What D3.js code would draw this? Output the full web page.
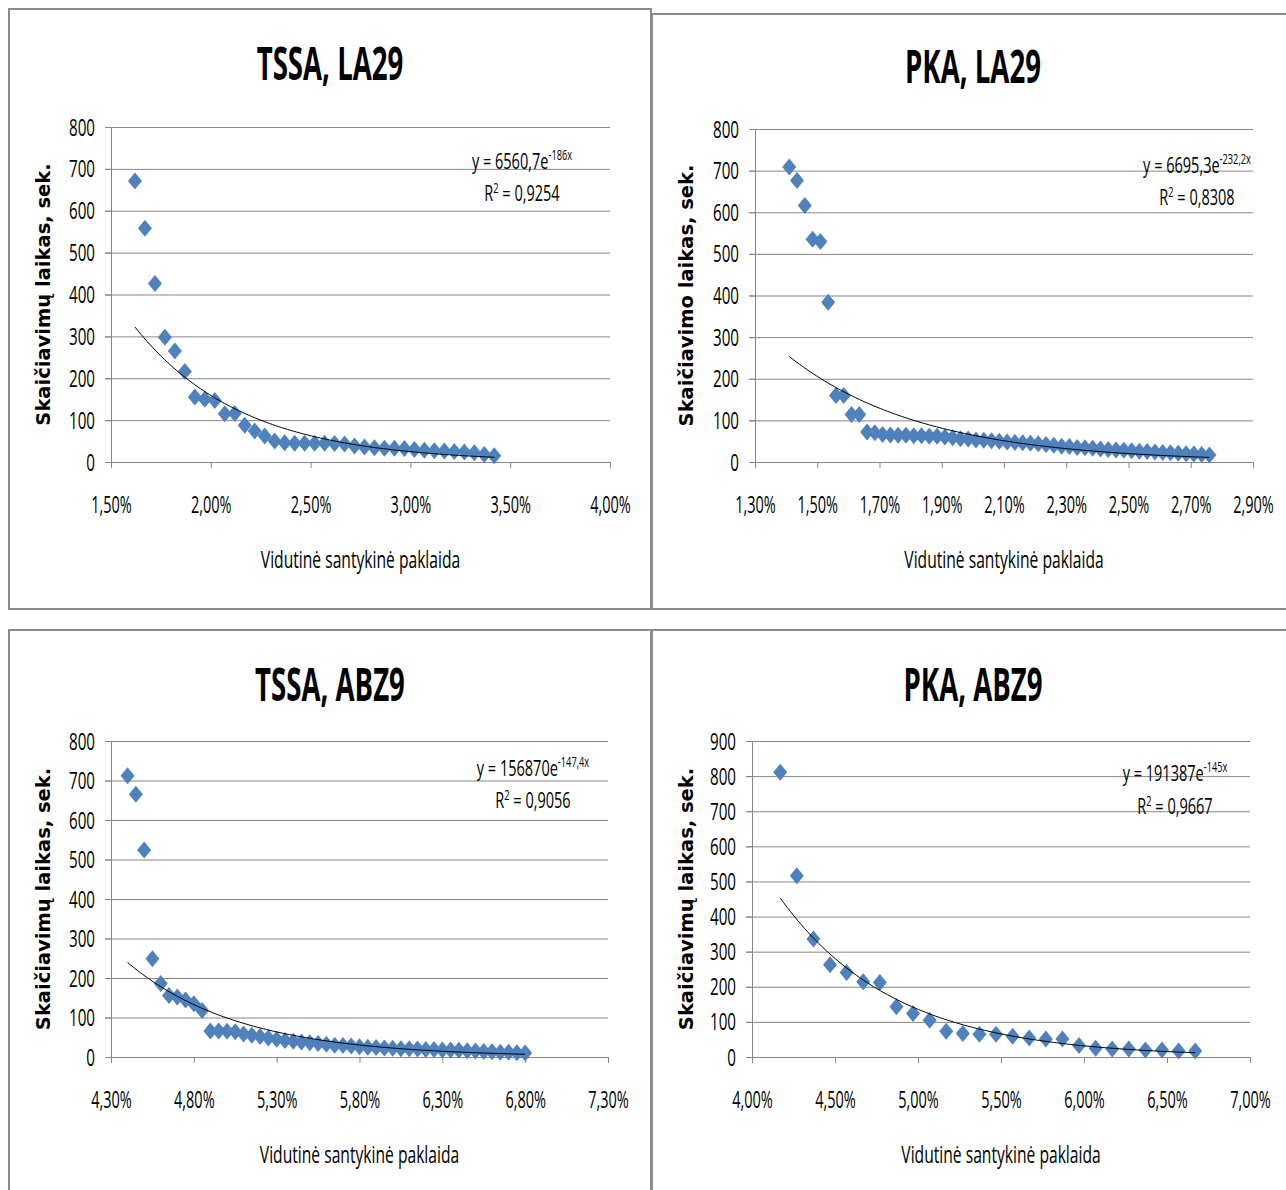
<!DOCTYPE html>
<html>
<head>
<meta charset="utf-8">
<script src="https://cdn.jsdelivr.net/npm/d3@7"></script>
<style>
  body { margin: 0; background: #fff; }
  svg { display: block; }
  .grid line { stroke: #868686; stroke-width: 1; }
  .grid .domain { display: none; }
  .axis path, .axis line { stroke: #868686; stroke-width: 1; }
  .axis text { font-family: "Open Sans", sans-serif; font-size: 23px; fill: #000; }
</style>
</head>
<body>
<div id="chart"></div>
<script>
// ---- data ----
const chartTitles = ["TSSA, LA29", "PKA, LA29", "TSSA, ABZ9", "PKA, ABZ9"];
const yTitles = ["Skaičiavimų laikas, sek.", "Skaičiavimo laikas, sek.", "Skaičiavimų laikas, sek.", "Skaičiavimų laikas, sek."];
const xTitle = "Vidutinė santykinė paklaida";

// x in percent, y in seconds
const tssaLa29X = [1.62,1.67,1.72,1.77,1.82,1.87,1.92,1.97,2.02,2.07,2.12,2.17,2.22,2.27,2.32,2.37,2.42,2.47,2.52,2.57,2.62,2.67,2.72,2.77,2.82,2.87,2.92,2.97,3.02,3.07,3.12,3.17,3.22,3.27,3.32,3.37,3.42];
const tssaLa29Y = [671,558,426,298,265,216,155,150,147,115,116,88,74,62,50,46,45,45,45,45,44,43,38,36,34,33,33,32,30,28,27,26,25,24,22,18,15];

const pkaLa29X = [1.41,1.435,1.46,1.485,1.51,1.535,1.56,1.585,1.61,1.635,1.66,1.685,1.71,1.735,1.76,1.785,1.81,1.835,1.86,1.885,1.91,1.935,1.96,1.985,2.01,2.035,2.06,2.085,2.11,2.135,2.16,2.185,2.21,2.235,2.26,2.285,2.31,2.335,2.36,2.385,2.41,2.435,2.46,2.485,2.51,2.535,2.56,2.585,2.61,2.635,2.66,2.685,2.71,2.735,2.76];
const pkaLa29Y = [709,676,616,535,530,384,160,160,114,114,72,70,66,65,64,64,63,63,62,62,60,58,56,55,53,52,51,50,48,47,46,45,44,42,40,38,37,35,34,33,31,30,29,28,27,26,25,24,23,22,21,20,19,18,17];

const tssaAbz9X = [4.40,4.45,4.50,4.55,4.60,4.65,4.70,4.75,4.80,4.85,4.90,4.95,5.00,5.05,5.10,5.15,5.20,5.25,5.30,5.35,5.40,5.45,5.50,5.55,5.60,5.65,5.70,5.75,5.80,5.85,5.90,5.95,6.00,6.05,6.10,6.15,6.20,6.25,6.30,6.35,6.40,6.45,6.50,6.55,6.60,6.65,6.70,6.75,6.80];
const tssaAbz9Y = [712,665,524,249,186,156,152,144,135,118,66,66,65,64,58,55,52,48,45,42,40,38,36,34,32,30,29,28,26,25,24,23,22,21,21,20,19,19,18,18,17,16,15,14,13,12,12,11,10];

const pkaAbz9X = [4.17,4.27,4.37,4.47,4.57,4.67,4.77,4.87,4.97,5.07,5.17,5.27,5.37,5.47,5.57,5.67,5.77,5.87,5.97,6.07,6.17,6.27,6.37,6.47,6.57,6.67];
const pkaAbz9Y = [811,516,336,263,241,214,212,143,124,105,73,67,65,65,59,54,51,51,33,25,23,23,20,20,17,17];

// exponential trendlines y = a * e^(b x), x as a fraction
const fitCoef = [6560.7, 6695.3, 156870, 191387];
const fitExp = [-186, -232.2, -147.4, -145];
const fitR2 = [0.9254, 0.8308, 0.9056, 0.9667];

// tick labels
const xTicksList = [
  [1.5, 2.0, 2.5, 3.0, 3.5, 4.0],
  [1.3, 1.5, 1.7, 1.9, 2.1, 2.3, 2.5, 2.7, 2.9],
  [4.3, 4.8, 5.3, 5.8, 6.3, 6.8, 7.3],
  [4.0, 4.5, 5.0, 5.5, 6.0, 6.5, 7.0]
];
const yTicksList = [
  [0, 100, 200, 300, 400, 500, 600, 700, 800],
  [0, 100, 200, 300, 400, 500, 600, 700, 800],
  [0, 100, 200, 300, 400, 500, 600, 700, 800],
  [0, 100, 200, 300, 400, 500, 600, 700, 800, 900]
];

const seriesX = [tssaLa29X, pkaLa29X, tssaAbz9X, pkaAbz9X];
const seriesY = [tssaLa29Y, pkaLa29Y, tssaAbz9Y, pkaAbz9Y];

// ---- layout (pixels) ----
const layout = [
  { frame: [9, 9, 642, 600],   plot: [111, 127, 610, 462],   eq: [522, 169, 201] },
  { frame: [652, 14, 640, 595], plot: [755, 129, 1253, 462], eq: [1197, 173, 205] },
  { frame: [9, 630, 642, 620], plot: [111, 741, 608, 1057],  eq: [533, 776, 808] },
  { frame: [652, 630, 640, 620], plot: [752, 741, 1250, 1057], eq: [1175, 781, 814] }
];

const lt = d3.formatLocale({ decimal: ",", thousands: "", grouping: [3], currency: ["", ""] });
const fmtPct = lt.format(".2%");
const comma = v => String(v).replace(".", ",");

const svg = d3.select("#chart").append("svg")
  .attr("width", 1286)
  .attr("height", 1190);

// diamond marker like Excel's
const diamondType = {
  draw(ctx) {
    ctx.moveTo(0, -8.5);
    ctx.lineTo(7, 0);
    ctx.lineTo(0, 8.5);
    ctx.lineTo(-7, 0);
    ctx.closePath();
  }
};

// text squeezed horizontally (Calibri-like narrow look)
function narrowText(parent, x, y, str, opt) {
  const g = parent.append("g")
    .attr("transform", `translate(${x},${y}) rotate(${opt.rotate || 0}) scale(${opt.sx || 1},1)`);
  return g.append("text")
    .attr("text-anchor", opt.anchor || "middle")
    .style("font-family", opt.family || "'Open Sans', sans-serif")
    .style("font-size", opt.size + "px")
    .style("font-weight", opt.weight || "normal")
    .style("fill", "#000")
    .text(str);
}

function drawPanel(i) {
  const L = layout[i];
  const [fx, fy, fw, fh] = L.frame;
  const [pl, pt, pr, pb] = L.plot;
  const w = pr - pl, h = pb - pt;

  svg.append("rect")
    .attr("x", fx).attr("y", fy)
    .attr("width", fw).attr("height", fh)
    .attr("fill", "none")
    .attr("stroke", "#8c8c8c")
    .attr("stroke-width", 2);

  const xTicks = xTicksList[i], yTicks = yTicksList[i];
  const x = d3.scaleLinear().domain(d3.extent(xTicks)).range([0, w]);
  const y = d3.scaleLinear().domain(d3.extent(yTicks)).range([h, 0]);

  const g = svg.append("g").attr("transform", `translate(${pl},${pt})`);

  // horizontal gridlines (start at the outer tick)
  g.append("g")
    .attr("class", "grid")
    .attr("transform", "translate(-6,0)")
    .call(d3.axisLeft(y).tickValues(yTicks).tickSize(-(w + 6)).tickFormat(""));

  // y axis
  const yAx = g.append("g")
    .attr("class", "axis")
    .call(d3.axisLeft(y).tickValues(yTicks).tickSize(6).tickSizeOuter(0).tickPadding(0));
  yAx.selectAll("text")
    .attr("x", 0)
    .attr("dy", "0.35em")
    .attr("transform", "translate(-16,0) scale(0.66,1)");

  // x axis
  const xAx = g.append("g")
    .attr("class", "axis")
    .attr("transform", `translate(0,${h})`)
    .call(d3.axisBottom(x).tickValues(xTicks).tickSize(6).tickSizeOuter(0)
      .tickFormat(d => fmtPct(d / 100)));
  xAx.select(".domain").remove();
  xAx.selectAll("text")
    .attr("y", 0)
    .attr("dy", 0)
    .attr("transform", "translate(0,51) scale(0.63,1)");

  // trendline from the fitted equation
  const xs = seriesX[i], ys = seriesY[i];
  const [x0, x1] = d3.extent(xs);
  const trend = d3.range(0, 121).map(k => {
    const xv = x0 + (x1 - x0) * k / 120;
    return [xv, fitCoef[i] * Math.exp(fitExp[i] * xv / 100)];
  });

  g.selectAll(".pt")
    .data(xs.map((v, k) => [v, ys[k]]))
    .join("path")
    .attr("class", "pt")
    .attr("d", d3.symbol().type(diamondType))
    .attr("transform", d => `translate(${x(d[0])},${y(d[1])})`)
    .attr("fill", "#4f81bd");

  g.append("path")
    .datum(trend)
    .attr("fill", "none")
    .attr("stroke", "#000")
    .attr("stroke-width", 1)
    .attr("d", d3.line().x(d => x(d[0])).y(d => y(d[1])));

  // equation + R²
  const [ex, ey, ry] = L.eq;
  const eqText = narrowText(svg, ex, ey, "", { size: 22, sx: 0.66 });
  eqText.append("tspan").text("y = " + comma(fitCoef[i]) + "e");
  eqText.append("tspan")
    .attr("dy", -9)
    .style("font-size", "14px")
    .text(comma(fitExp[i]) + "x");
  const rText = narrowText(svg, ex, ry, "", { size: 22, sx: 0.66 });
  rText.append("tspan").text("R");
  rText.append("tspan").attr("dy", -8).style("font-size", "14px").text("2");
  rText.append("tspan").attr("dy", 8).text(" = " + comma(fitR2[i]));

  // titles
  narrowText(svg, fx + 321, fy + (i === 1 ? 69 : 71),
    chartTitles[i], { size: 46, sx: 0.6, weight: "bold" });
  narrowText(svg, pl + w / 2, pb + 106, xTitle, { size: 23, sx: 0.68 });
  narrowText(svg, fx + 41, pt + h / 2, yTitles[i], {
    size: 19.5, rotate: -90, weight: "bold", family: "'DejaVu Sans', Verdana, sans-serif"
  });
}

d3.range(4).forEach(drawPanel);
</script>
</body>
</html>
